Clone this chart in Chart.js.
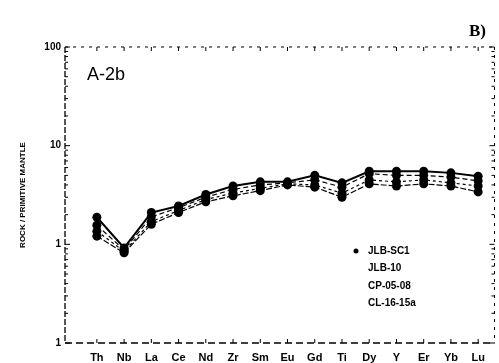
<!DOCTYPE html>
<html><head><meta charset="utf-8">
<script src="https://cdn.jsdelivr.net/npm/chart.js@4.4.0/dist/chart.umd.min.js"></script>
<style>html,body{margin:0;padding:0;background:#fff}#wrap{width:499px;height:363px;position:relative}</style>
</head><body><div id="wrap"><canvas id="c" width="499" height="363"></canvas></div>
<script>
const elements = ["Th","Nb","La","Ce","Nd","Zr","Sm","Eu","Gd","Ti","Dy","Y","Er","Yb","Lu"];
const seriesNames = ["JLB-SC1","JLB-10","CP-05-08","CL-16-15a"];
const jlbSC1  = [1.88, 0.92, 2.10, 2.45, 3.20, 3.90, 4.30, 4.30, 5.00, 4.20, 5.50, 5.50, 5.50, 5.30, 4.90];
const jlb10   = [1.56, 0.88, 1.90, 2.35, 3.00, 3.60, 4.00, 4.20, 4.50, 3.80, 5.20, 5.00, 5.00, 4.80, 4.40];
const cp0508  = [1.36, 0.85, 1.70, 2.20, 2.85, 3.30, 3.70, 4.10, 4.00, 3.30, 4.50, 4.30, 4.50, 4.20, 3.90];
const cl1615a = [1.21, 0.82, 1.60, 2.10, 2.70, 3.10, 3.50, 4.00, 3.80, 3.00, 4.10, 3.90, 4.10, 3.90, 3.40];
const yMajorTicks = [100, 10, 1, 0.1];
const yMajorLabels = ["100", "10", "1", "1"];

const allSeries = [jlbSC1, jlb10, cp0508, cl1615a];
const dashes = [[], [5,3], [3,3], [6,2]];
const widths = [2, 1.2, 1.2, 1.2];
const datasets = allSeries.map((arr, i) => ({
  label: seriesNames[i],
  data: arr.map((v, j) => ({x: j, y: v})),
  borderColor: '#000', backgroundColor: '#000',
  borderWidth: widths[i], borderDash: dashes[i],
  pointRadius: 4.5, pointHoverRadius: 4.5, pointBorderWidth: 0,
  tension: 0
}));

const framePlugin = {
  id: 'frame',
  afterDraw(chart) {
    const {ctx, chartArea: a, scales} = chart;
    ctx.save();
    ctx.strokeStyle = '#000';
    ctx.lineWidth = 1.3;
    ctx.setLineDash([6, 2]);
    ctx.beginPath(); ctx.moveTo(a.left, a.top); ctx.lineTo(a.left, a.bottom); ctx.stroke();
    ctx.setLineDash([7, 4]);
    ctx.beginPath(); ctx.moveTo(a.left, a.bottom); ctx.lineTo(a.right, a.bottom); ctx.stroke();
    ctx.lineWidth = 1;
    ctx.setLineDash([3, 5]);
    ctx.beginPath(); ctx.moveTo(a.left, a.top); ctx.lineTo(a.right, a.top); ctx.stroke();
    ctx.beginPath(); ctx.moveTo(a.right, a.top); ctx.lineTo(a.right, a.bottom); ctx.stroke();
    ctx.setLineDash([]);
    const ys = scales.y;
    ys.ticks.forEach(t => {
      const p = ys.getPixelForValue(t.value);
      const mant = t.value / Math.pow(10, Math.floor(Math.log10(t.value) + 1e-9));
      const major = Math.abs(mant - 1) < 1e-6;
      ctx.beginPath(); ctx.moveTo(a.left, p); ctx.lineTo(a.left + (major ? 5 : 3), p); ctx.stroke();
      ctx.beginPath(); ctx.moveTo(a.right, p); ctx.lineTo(a.right - (major ? 5 : 3), p); ctx.stroke();
    });
    const xs = scales.x;
    elements.forEach((e, j) => {
      const p = xs.getPixelForValue(j);
      ctx.beginPath(); ctx.moveTo(p, a.bottom); ctx.lineTo(p, a.bottom - 4); ctx.stroke();
      ctx.beginPath(); ctx.moveTo(p, a.top); ctx.lineTo(p, a.top + 4); ctx.stroke();
    });
    ctx.fillStyle = '#000';
    ctx.font = '18px "Liberation Sans", Arial, sans-serif';
    ctx.textBaseline = 'middle'; ctx.textAlign = 'left';
    ctx.fillText('A-2b', 87, 75);
    ctx.font = 'bold 17px "Liberation Serif", serif';
    ctx.fillText('B)', 469, 32);
    ctx.save();
    ctx.translate(23, 195);
    ctx.rotate(-Math.PI / 2);
    ctx.textAlign = 'center';
    ctx.font = 'bold 8px "Liberation Sans Narrow", "Liberation Sans", Arial, sans-serif';
    ctx.fillText('ROCK / PRIMITIVE MANTLE', 0, 0);
    ctx.restore();
    ctx.font = 'bold 10px "Liberation Sans", Arial, sans-serif';
    ctx.textAlign = 'left';
    chart.data.datasets.forEach((d, i) => {
      const yy = 251 + i * 17.5;
      if (i === 0) { ctx.beginPath(); ctx.arc(356, yy, 2.5, 0, Math.PI * 2); ctx.fill(); }
      ctx.fillText(d.label, 368, yy);
    });
    ctx.restore();
  }
};

new Chart(document.getElementById('c'), {
  type: 'line',
  data: { datasets },
  options: {
    responsive: false, animation: false, devicePixelRatio: 1,
    layout: { padding: { top: 47, right: 1, left: 0, bottom: 0 } },
    plugins: { legend: { display: false }, tooltip: { enabled: false } },
    scales: {
      x: {
        type: 'linear', min: -1.17, max: 14.6,
        grid: { display: false, drawTicks: false }, border: { display: false },
        afterFit(s) { s.height = 20; s.paddingLeft = 0; s.paddingRight = 0; },
        ticks: {
          stepSize: 1, autoSkip: false, maxRotation: 0, padding: 8, includeBounds: false,
          color: '#000', font: { family: '"Liberation Sans", Arial, sans-serif', size: 11, weight: 'bold' },
          callback: v => (Number.isInteger(v) && v >= 0 && v < elements.length) ? elements[v] : ''
        }
      },
      y: {
        type: 'logarithmic', min: 0.1, max: 100,
        grid: { display: false, drawTicks: false }, border: { display: false },
        afterFit(s) { s.width = 65; s.paddingTop = 0; s.paddingBottom = 0; },
        afterBuildTicks(s) {
          const t = [];
          [0.1, 1, 10].forEach(b => { for (let m = 1; m < 10; m++) t.push({value: +(b * m).toPrecision(3)}); });
          t.push({value: 100});
          s.ticks = t;
        },
        ticks: {
          autoSkip: false, padding: 4, color: '#000',
          font: { family: '"Liberation Sans", Arial, sans-serif', size: 10, weight: 'bold' },
          callback: v => { const k = yMajorTicks.findIndex(m => Math.abs(m - v) < 1e-9); return k >= 0 ? yMajorLabels[k] : ''; }
        }
      }
    }
  },
  plugins: [framePlugin]
});
</script></body></html>
